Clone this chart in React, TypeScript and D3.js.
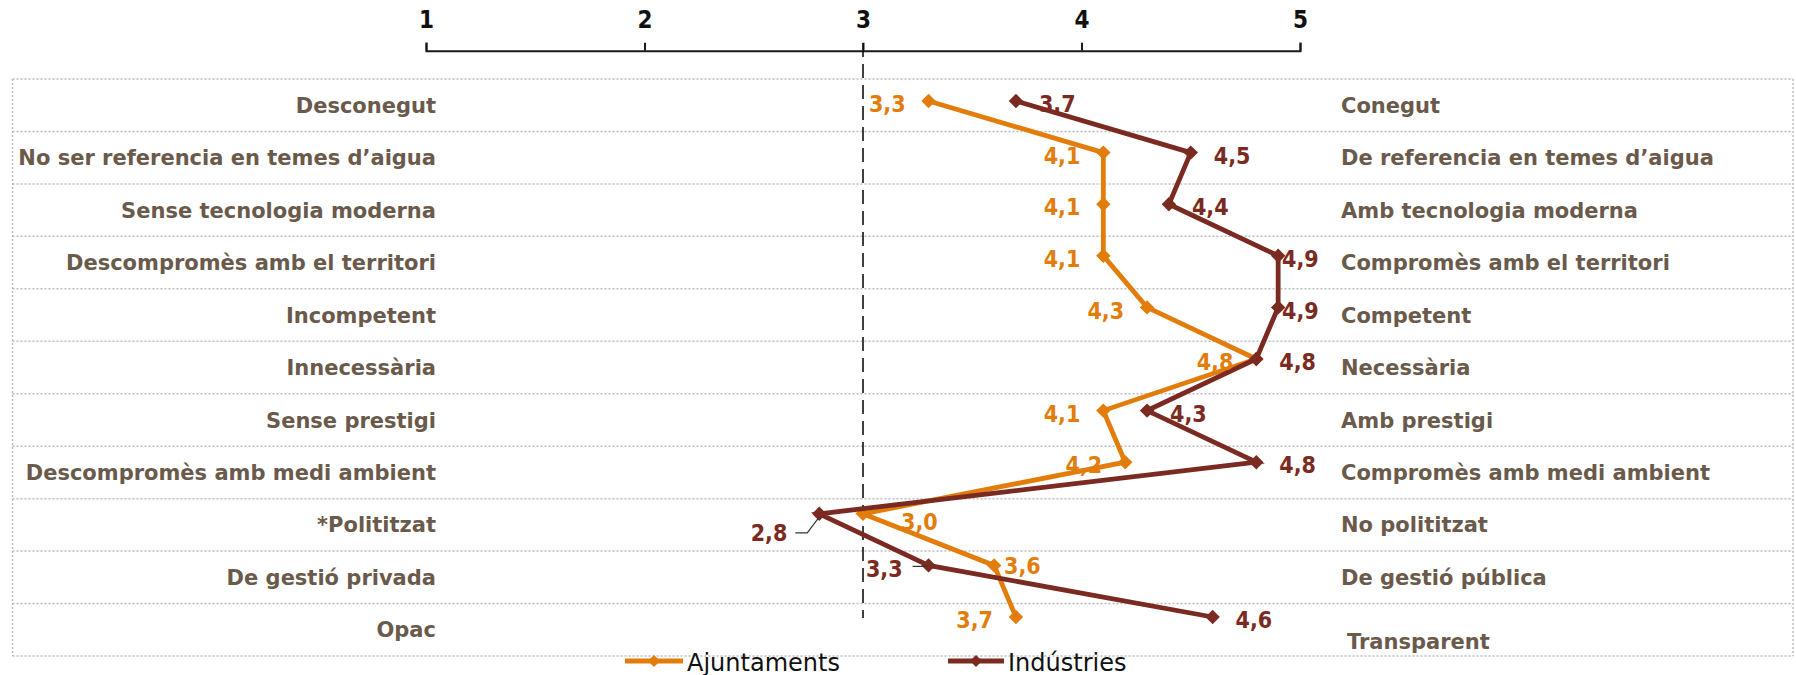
import React, { useEffect, useRef } from "react";
import * as d3 from "d3";

// Semantic differential items: negative pole (left) and positive pole (right)
const leftLabels = [
  "Desconegut",
  "No ser referencia en temes d’aigua",
  "Sense tecnologia moderna",
  "Descompromès amb el territori",
  "Incompetent",
  "Innecessària",
  "Sense prestigi",
  "Descompromès amb medi ambient",
  "*Polititzat",
  "De gestió privada",
  "Opac",
];
const rightLabels = [
  "Conegut",
  "De referencia en temes d’aigua",
  "Amb tecnologia moderna",
  "Compromès amb el territori",
  "Competent",
  "Necessària",
  "Amb prestigi",
  "Compromès amb medi ambient",
  "No polititzat",
  "De gestió pública",
  "Transparent",
];

// Mean scores (1–5) per series
const ajuntaments = [3.3, 4.1, 4.1, 4.1, 4.3, 4.8, 4.1, 4.2, 3.0, 3.6, 3.7];
const industries = [3.7, 4.5, 4.4, 4.9, 4.9, 4.8, 4.3, 4.8, 2.8, 3.3, 4.6];

const scaleTicks = [1, 2, 3, 4, 5];
const seriesNames = ["Ajuntaments", "Indústries"];
const seriesColors = ["#E27D0C", "#7B2A22"];
const midpoint = 3;

// Label placement per series point (default side, with a few exceptions)
const labelPlacement: string[][] = [
  ["left", "left", "left", "left", "left", "left", "left", "left", "belowRight", "nearRight", "left"],
  ["right", "right", "right", "right", "right", "right", "right", "right", "leaderBelowLeft", "leaderLeft", "right"],
];

const W = 1796;
const H = 675;
const LABEL_COLOR = "#6a5a4c";
const ROW_FONT = 21;
const VAL_FONT = 23;
const condensed = "'DejaVu Sans Condensed', 'DejaVu Sans', sans-serif";
const sans = "'DejaVu Sans', sans-serif";

const fmt = (v: number) => d3.format(".1f")(v).replace(".", ",");

export default function App() {
  const axisRef = useRef<SVGGElement>(null);

  const x = d3.scaleLinear().domain([1, 5]).range([426, 1300]);
  const idx = d3.range(leftLabels.length);
  const rows = d3.scaleBand<number>().domain(idx).range([79, 656]);
  const py = d3.scalePoint<number>().domain(idx).range([101, 617]);

  const boxLeft = 12.5;
  const boxRight = 1793;
  const axisY = 50.7;

  useEffect(() => {
    if (!axisRef.current) return;
    const g = d3.select(axisRef.current);
    g.selectAll("*").remove();
    g.call(
      d3
        .axisTop(x)
        .tickValues(scaleTicks)
        .tickFormat((d) => String(d))
        .tickSizeInner(8)
        .tickSizeOuter(8)
        .tickPadding(14.5)
    );
    g.select(".domain").attr("stroke", "#1a1a1a").attr("stroke-width", 2).attr("fill", "none");
    g.selectAll(".tick line").attr("stroke", "#1a1a1a").attr("stroke-width", 2);
    g.selectAll(".tick text")
      .attr("fill", "#111")
      .attr("font-family", condensed)
      .attr("font-weight", "bold")
      .attr("font-size", 24);
  }, []);

  // Square rotated 45° gives an even diamond marker
  const diamond = d3.symbol().type(d3.symbolSquare).size(104)();
  const legendDiamond = d3.symbol().type(d3.symbolSquare).size(72)();

  const seriesData = [ajuntaments, industries];
  const lineGen = d3
    .line<number>()
    .x((v) => x(v))
    .y((_, i) => py(i) as number);

  const capHalf = VAL_FONT * 0.36;

  const valueLabel = (s: number, i: number) => {
    const v = seriesData[s][i];
    const px = x(v);
    const cy = py(i) as number;
    const place = labelPlacement[s][i];
    const color = seriesColors[s];
    const common = {
      fill: color,
      fontFamily: condensed,
      fontWeight: "bold" as const,
      fontSize: VAL_FONT,
    };
    const key = `lab-${s}-${i}`;
    if (place === "left") {
      return (
        <text key={key} x={px - 23} y={cy + 3 + capHalf} textAnchor="end" {...common}>
          {fmt(v)}
        </text>
      );
    }
    if (place === "right") {
      return (
        <text key={key} x={Math.min(px + 23, 1282)} y={cy + 3 + capHalf} textAnchor="start" {...common}>
          {fmt(v)}
        </text>
      );
    }
    if (place === "belowRight") {
      return (
        <text key={key} x={px + 38} y={cy + 8 + capHalf} textAnchor="start" {...common}>
          {fmt(v)}
        </text>
      );
    }
    if (place === "nearRight") {
      return (
        <text key={key} x={px + 10} y={cy + capHalf} textAnchor="start" {...common}>
          {fmt(v)}
        </text>
      );
    }
    if (place === "leaderBelowLeft") {
      return (
        <g key={key}>
          <path
            d={`M${px - 24},${cy + 19} H${px - 12} L${px},${cy + 3}`}
            fill="none"
            stroke="#333"
            strokeWidth={1.2}
          />
          <text x={px - 32} y={cy + 19 + capHalf} textAnchor="end" {...common}>
            {fmt(v)}
          </text>
        </g>
      );
    }
    // leaderLeft
    return (
      <g key={key}>
        <path d={`M${px - 16},${cy + 1} H${px - 1}`} fill="none" stroke="#333" strokeWidth={1.2} />
        <text x={px - 26} y={cy + 3 + capHalf} textAnchor="end" {...common}>
          {fmt(v)}
        </text>
      </g>
    );
  };

  const rowCapHalf = ROW_FONT * 0.36;
  const rowBounds = [...idx.map((i) => rows(i) as number), rows.range()[1]];

  const legendItems = [
    { name: seriesNames[0], color: seriesColors[0], x0: 625, x1: 683, tx: 687 },
    { name: seriesNames[1], color: seriesColors[1], x0: 948, x1: 1004, tx: 1008 },
  ];
  const legendY = 661;

  return (
    <svg
      width={W}
      height={H}
      viewBox={`0 0 ${W} ${H}`}
      style={{ position: "absolute", left: 0, top: 0, display: "block", background: "#fff" }}
    >
      {/* table grid */}
      <g stroke="#bdbdbd" strokeWidth={1.5} strokeDasharray="2,2" fill="none">
        {rowBounds.map((yy, k) => (
          <line key={`h${k}`} x1={boxLeft} x2={boxRight} y1={yy} y2={yy} />
        ))}
        <line x1={boxLeft} x2={boxLeft} y1={rowBounds[0]} y2={rowBounds[rowBounds.length - 1]} />
        <line x1={boxRight} x2={boxRight} y1={rowBounds[0]} y2={rowBounds[rowBounds.length - 1]} />
      </g>

      {/* row labels */}
      <g fontFamily={sans} fontWeight="bold" fontSize={ROW_FONT} fill={LABEL_COLOR}>
        {leftLabels.map((t, i) => (
          <text key={`l${i}`} x={436} y={(rows(i) as number) + rows.bandwidth() / 2 + rowCapHalf} textAnchor="end">
            {t}
          </text>
        ))}
        {rightLabels.map((t, i) => (
          <text
            key={`r${i}`}
            x={i === rightLabels.length - 1 ? 1347 : 1341}
            y={(rows(i) as number) + rows.bandwidth() / 2 + rowCapHalf + (i === rightLabels.length - 1 ? 12 : 0)}
            textAnchor="start"
          >
            {t}
          </text>
        ))}
      </g>

      {/* scale axis */}
      <g ref={axisRef} transform={`translate(0,${axisY})`} />

      {/* neutral midpoint */}
      <line
        x1={x(midpoint)}
        x2={x(midpoint)}
        y1={43}
        y2={618}
        stroke="#111"
        strokeWidth={1.6}
        strokeDasharray="14,7"
      />

      {/* series lines and markers */}
      {seriesData.map((vals, s) => (
        <g key={`s${s}`}>
          <path
            d={lineGen(vals) || ""}
            fill="none"
            stroke={seriesColors[s]}
            strokeWidth={4.8}
            strokeLinejoin="miter"
          />
          {vals.map((v, i) => (
            <path
              key={`m${s}-${i}`}
              d={diamond || ""}
              transform={`translate(${x(v)},${py(i)}) rotate(45)`}
              fill={seriesColors[s]}
            />
          ))}
        </g>
      ))}

      {/* value labels */}
      {seriesData.map((vals, s) => vals.map((_, i) => valueLabel(s, i)))}

      {/* legend */}
      {legendItems.map((it) => (
        <g key={it.name}>
          <line x1={it.x0} x2={it.x1} y1={legendY} y2={legendY} stroke={it.color} strokeWidth={5} />
          <path
            d={legendDiamond || ""}
            transform={`translate(${(it.x0 + it.x1) / 2},${legendY}) rotate(45)`}
            fill={it.color}
          />
          <text x={it.tx} y={legendY + 9.5} fontFamily={sans} fontSize={24} fill="#111">
            {it.name}
          </text>
        </g>
      ))}
    </svg>
  );
}
